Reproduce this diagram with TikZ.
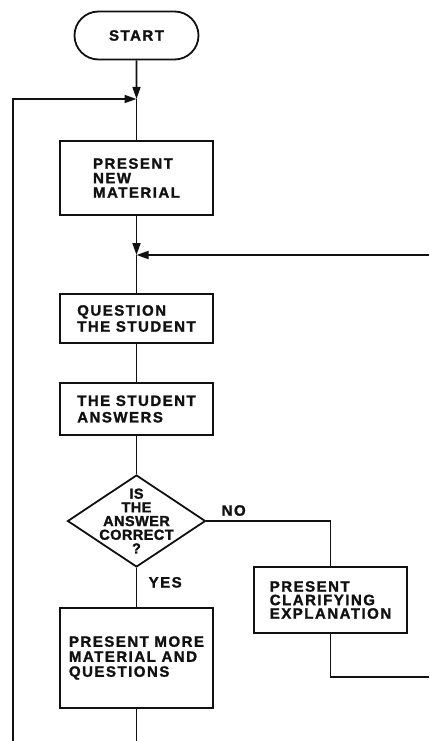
\documentclass[tikz,border=0pt]{standalone}
\usepackage{fontspec}
\setmainfont{Liberation Sans}
\newfontfamily\flowfont{Liberation Sans}[LetterSpace=10,FakeBold=1.5]
\newfontfamily\checkfont{Liberation Sans}[LetterSpace=3,FakeBold=1.5]
\usepackage{tikz}
\usetikzlibrary{arrows.meta,positioning,shapes.geometric,shapes.misc}
\definecolor{ink}{HTML}{111111}

\begin{document}
\begin{tikzpicture}[x=1pt,y=-1pt,
  flowtext/.style={font=\flowfont\bfseries\fontsize{15}{15}\selectfont,text=ink},
  flowbox/.style={flowtext,draw=ink,line width=2pt,minimum width=153pt,align=left,inner sep=0pt},
  terminal/.style={flowtext,draw=ink,line width=1.8pt,rounded rectangle,minimum width=124pt,minimum height=48pt,inner sep=0pt},
  decision/.style={draw=ink,line width=1.8pt,diamond,minimum width=138pt,minimum height=92pt,inner sep=0pt},
  flow/.style={draw=ink,line width=1.7pt},
  flowarr/.style={flow,-{Triangle[length=12pt,width=8pt]}}]
  \useasboundingbox (0,0) rectangle (429,741);
  \node[terminal] (start) at (136.5,35.5) {START};
  \coordinate (join1) at (136.5,99);
  \node[flowbox,minimum height=74pt,font=\flowfont\bfseries\fontsize{15}{14.5}\selectfont] (newmat) at (136.5,178) {PRESENT\\NEW\\MATERIAL};
  \coordinate (join2) at (136.5,255);
  \node[flowbox,minimum height=49pt,font=\flowfont\bfseries\fontsize{15}{16}\selectfont] (quest) at (136.5,318.5) {QUESTION\\THE STUDENT};
  \node[flowbox,minimum height=52pt,font=\flowfont\bfseries\fontsize{15}{16.5}\selectfont] (answ) at (136.5,409) {THE STUDENT\\ANSWERS};
  \node[decision] (check) at (136.5,521) {};
  \node[flowtext,align=center,inner sep=0pt,font=\checkfont\bfseries\fontsize{14.5}{13.7}\selectfont] (checktxt) at (check.center) {IS\\THE\\ANSWER\\CORRECT\\?};
  \node[flowbox,minimum height=66pt,font=\flowfont\bfseries\fontsize{15}{13.5}\selectfont] (clarify) at (330.5,600) {PRESENT\\CLARIFYING\\EXPLANATION};
  \node[flowbox,minimum height=100pt] (more) at (136.5,658) {PRESENT MORE\\MATERIAL AND\\QUESTIONS};
  \coordinate (rtop) at (429,255);
  \coordinate (rbot) at (429,677);
  \coordinate (lbot) at (12.7,741);
  \coordinate (mbot) at (136.5,741);

  \draw[flowarr] (start) -- (join1);
  \draw[flow] (join1) -- (newmat);
  \draw[flowarr] (lbot) |- (join1);
  \draw[flowarr] (newmat) -- (join2);
  \draw[flowarr] (rtop) -- (join2);
  \draw[flow] (join2) -- (quest);
  \draw[flow] (quest) -- (answ);
  \draw[flow] (answ) -- (check);
  \draw[flow] (check.south) -- node[flowtext,pos=0.37,right=8pt]{YES} (more);
  \draw[flow] (check.east) -| node[flowtext,pos=0.11,above=1pt]{NO} (clarify.north);
  \draw[flow] (clarify.south) |- (rbot);
  \draw[flow] (more) -- (mbot);
\end{tikzpicture}
\end{document}
